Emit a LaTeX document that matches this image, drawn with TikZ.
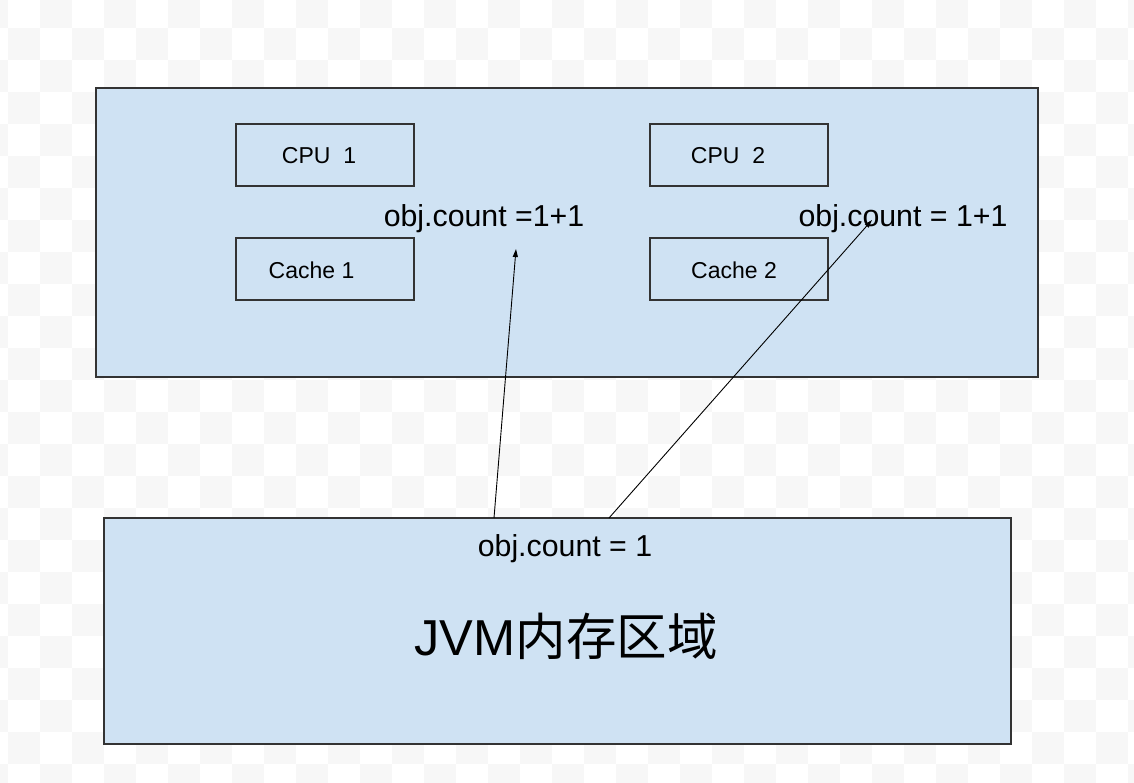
\documentclass[tikz,border=0pt]{standalone}
\usepackage{fontspec}
\setmainfont{Liberation Sans}
\newfontfamily\cjkfont{Noto Sans CJK SC}
\usetikzlibrary{arrows.meta}
\definecolor{boxfill}{HTML}{CFE2F3}
\definecolor{boxline}{HTML}{333333}
\definecolor{checker}{HTML}{F7F7F7}
\tikzset{
  panel/.style={draw=boxline, line width=1.3pt, fill=boxfill},
  unit/.style={draw=boxline, line width=1.1pt, fill=boxfill, minimum width=178pt, minimum height=62pt, inner sep=0pt},
  small/.style={inner sep=0pt, font=\fontsize{23}{26}\selectfont},
  lbl/.style={inner sep=0pt, font=\fontsize{30.3}{33}\selectfont},
  conn/.style={line width=0.9pt, -{Triangle[length=8pt,width=5pt]}}
}
\begin{document}
\begin{tikzpicture}[x=1pt,y=-1pt]
\useasboundingbox (0,0) rectangle (1134,782);
\fill[white] (0,0) rectangle (1134,782);
% faint checkerboard background
\foreach \i in {-1,...,35}{
  \foreach \j in {0,...,25}{
    \pgfmathtruncatemacro{\odd}{mod(\i+\j+100,2)}
    \ifnum\odd=1
      \fill[checker] ({8+32*\i},{-4+32*\j}) rectangle ++(32,32);
    \fi
  }
}
% top panel
\node[panel, minimum width=942pt, minimum height=289pt, inner sep=0pt] (top) at (567,232.5) {};
\node[unit] (cpu1) at (325,155) {};
\node[unit] (cache1) at (325,269) {};
\node[unit] (cpu2) at (739,155) {};
\node[unit] (cache2) at (739,269) {};
\node[small] (cpu1t) at (319,156) {CPU\ \ 1};
\node[small] (cache1t) at (311.5,270) {Cache 1};
\node[small] (cpu2t) at (728,156) {CPU\ \ 2};
\node[small] (cache2t) at (734,270) {Cache 2};
\node[lbl] (v1) at (484,219) {obj.count =1+1};
\node[lbl] (v2) at (903,219) {obj.count = 1+1};
% bottom panel
\node[panel, minimum width=907pt, minimum height=226pt, inner sep=0pt] (jvm) at (557.5,631) {};
\node[lbl] (v0) at (565,549) {obj.count = 1};
\node[inner sep=0pt, font=\fontsize{50.5}{55}\selectfont] (jvmlabel) at (566,636) {JVM{\cjkfont 内存区域}};
% connectors
\coordinate (s1) at (494,518);
\coordinate (s2) at (609,518);
\coordinate (e1) at (516,249);
\coordinate (e2) at (872,220);
\draw[conn] (s1) -- (e1);
\draw[conn] (s2) -- (e2);
\end{tikzpicture}
\end{document}
